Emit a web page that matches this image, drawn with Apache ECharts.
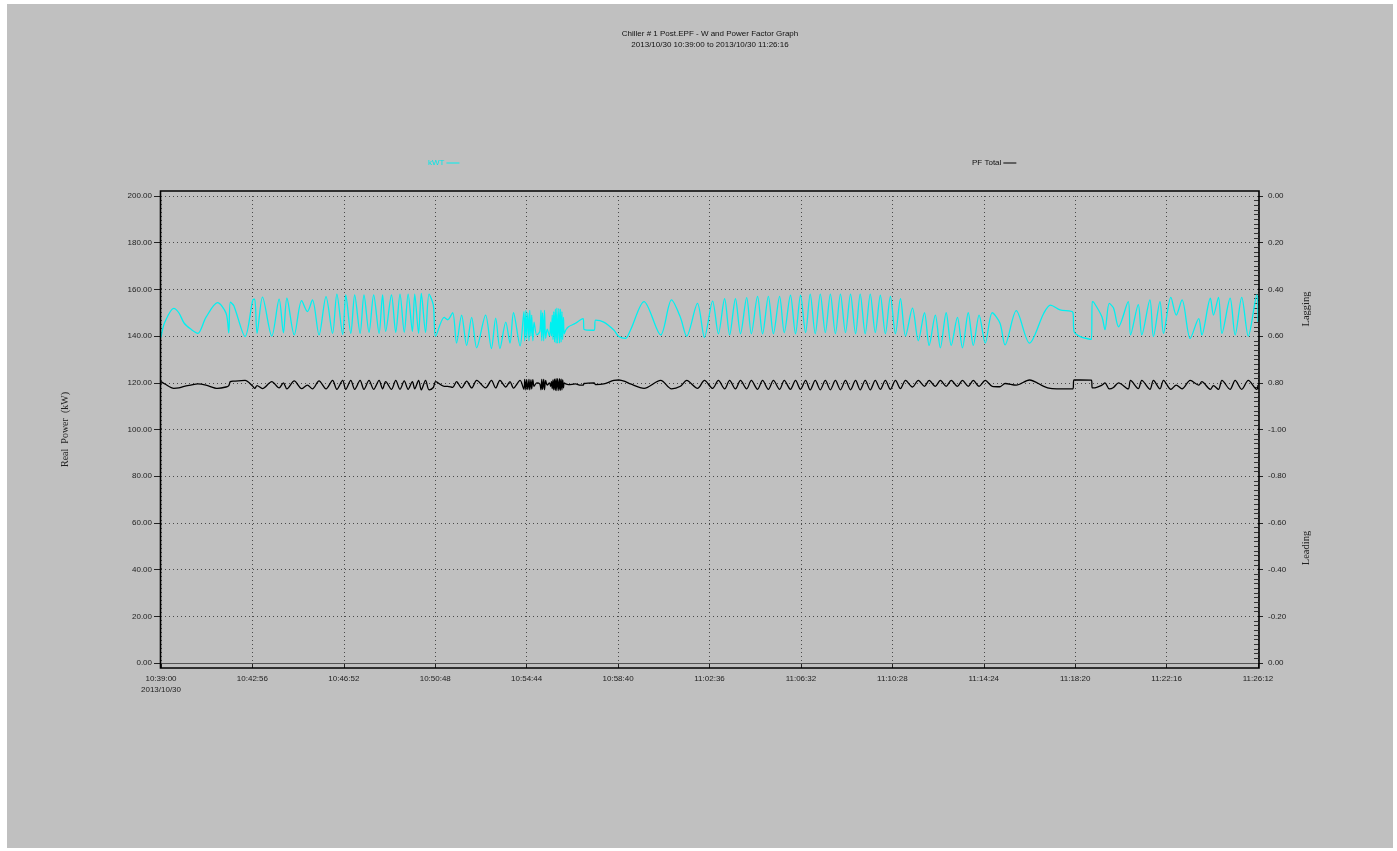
<!DOCTYPE html>
<html>
<head>
<meta charset="utf-8">
<title>Chiller # 1 Post.EPF - W and Power Factor Graph</title>
<script src="https://cdn.jsdelivr.net/npm/echarts@6/dist/echarts.min.js"></script>
<style>
    html, body { margin: 0; padding: 0; background: #ffffff; }
    #chart { width: 1397px; height: 851px; }
</style>
</head>
<body>
<div id="chart"></div>
<script>
// seconds after 10:39:00 on 2013/10/30
const times = [
    0, 10, 33, 46, 60, 77, 95, 116, 146, 168, 175, 179, 188, 217, 237, 242, 248, 262, 286, 305,
    316, 325, 344, 363, 378, 391, 408, 426, 443, 454, 469, 477, 490, 500, 514, 524, 537, 549, 563, 572,
    580, 595, 606, 617, 628, 638, 649, 655, 665, 672, 683, 692, 703, 709,
    731, 740, 753, 763, 776, 789, 802, 815, 838, 853, 864, 875, 890, 901, 910, 927,
    937, 939, 942, 944, 947, 950, 952, 955, 957, 960, 963,
    970, 978,
    981, 983, 985, 988, 990, 993, 997, 1003,
    1006, 1008, 1010, 1012, 1014, 1016, 1018, 1020, 1022, 1024, 1027, 1029, 1031, 1033, 1035, 1037, 1039, 1041,
    1045, 1052, 1070, 1083, 1090, 1092, 1118, 1122, 1143, 1169, 1182, 1199, 1212, 1247, 1290, 1318, 1341,
    1357, 1385, 1403, 1424, 1439, 1455, 1468, 1483, 1496, 1512, 1524, 1540, 1553, 1568, 1581, 1597, 1609, 1625, 1638, 1651,
    1664, 1676, 1689, 1702, 1715, 1728, 1741, 1754, 1767, 1780, 1793, 1805, 1818, 1831, 1844, 1857, 1870, 1883, 1896, 1909,
    1922, 1940, 1955, 1971, 1983, 1999, 2012, 2027, 2040, 2056, 2069, 2084, 2097, 2112, 2128, 2146, 2166,
    2179, 2208, 2242, 2279, 2296, 2321, 2354, 2357, 2373, 2402, 2404, 2408, 2429, 2437, 2448, 2459, 2472, 2497, 2503, 2523,
    2532, 2553, 2562, 2579, 2588, 2607, 2621, 2636, 2657, 2679, 2687, 2709, 2717, 2730, 2739, 2760, 2773, 2790, 2807, 2829, 2832
];

// real power, kW
const kwt = [
    139.5, 146, 151.9, 150, 145.5, 143, 141.2, 148, 154.3, 149.8, 141.4, 154.5, 153, 139.8, 155.5, 155.8, 141.2, 156.7, 140, 155.8,
    141.4, 156.2, 140.5, 155.2, 150.5, 155.5, 140.5, 156.9, 141.2, 158, 140.8, 157.6, 141.2, 157.6, 141.2, 157.6, 141.6, 157.6, 141.2, 157.6,
    142, 157.6, 141.6, 158, 141.6, 158, 142, 158, 141.2, 158.3, 141.6, 158, 153.3, 140,
    148, 147, 150, 137, 149, 136, 148, 135, 149, 134.7, 147.7, 134.7, 146, 137, 150, 135.8,
    150.5, 138, 151, 139, 150, 138, 151, 140, 149, 138, 146,
    140.5, 142,
    151, 138, 150, 138, 151, 139, 143, 140,
    146, 140, 149, 138.5, 150.5, 137.5, 151.5, 137, 152, 137, 151.8, 137, 151.5, 137.5, 150.5, 138.5, 148, 141,
    142.6, 144, 145.5, 147, 147.5, 142.9, 142.5, 146.8, 146, 142.6, 139.8, 139, 142.6, 154.8, 140.5, 155.5, 148,
    140, 154, 139.5, 155, 141, 156, 140.5, 156, 141, 156.5, 141, 157, 141, 157, 141, 157, 141.5, 157.5, 141, 157.5,
    141.5, 158, 141, 158, 141.5, 158, 141, 158, 141.5, 158, 141, 158, 141, 158, 141.5, 157.5, 141, 157, 141, 156,
    140, 152, 138, 150, 136, 149, 135, 150, 136, 148, 135, 150, 136, 149, 137, 150, 145.5,
    136.2, 150.9, 137, 149.8, 153.3, 151.2, 150.2, 142, 139.8, 138.6, 154.8, 154.5, 148.3, 142.8, 154, 152, 144, 154.8, 140.5, 153.5,
    140.5, 155.5, 139.8, 154.8, 141.2, 156.6, 149, 155.5, 139, 147.5, 140.5, 156.2, 149, 156.6, 141.2, 156.2, 140.5, 156.6, 140, 157.6, 146
];

// total power factor (lagging)
const pfTotal = [
    0.795, 0.805, 0.824, 0.822, 0.815, 0.81, 0.805, 0.81, 0.824, 0.818, 0.812, 0.795, 0.793, 0.79, 0.815, 0.824, 0.812, 0.825, 0.795, 0.822,
    0.80, 0.826, 0.792, 0.825, 0.81, 0.826, 0.792, 0.826, 0.79, 0.828, 0.79, 0.828, 0.79, 0.828, 0.79, 0.828, 0.79, 0.828, 0.79, 0.826,
    0.795, 0.828, 0.79, 0.828, 0.792, 0.828, 0.795, 0.826, 0.79, 0.83, 0.79, 0.83, 0.82, 0.795,
    0.815, 0.815, 0.82, 0.795, 0.822, 0.793, 0.822, 0.79, 0.822, 0.79, 0.822, 0.79, 0.818, 0.795, 0.823, 0.79,
    0.828, 0.785, 0.83, 0.786, 0.828, 0.785, 0.83, 0.788, 0.826, 0.786, 0.815,
    0.80, 0.805,
    0.83, 0.785, 0.828, 0.785, 0.83, 0.79, 0.81, 0.80,
    0.815, 0.795, 0.825, 0.788, 0.83, 0.784, 0.832, 0.782, 0.833, 0.782, 0.833, 0.782, 0.832, 0.784, 0.83, 0.788, 0.822, 0.80,
    0.805, 0.808, 0.805, 0.81, 0.81, 0.803, 0.80, 0.808, 0.805, 0.79, 0.788, 0.795, 0.805, 0.824, 0.79, 0.826, 0.815,
    0.79, 0.824, 0.79, 0.824, 0.79, 0.826, 0.79, 0.826, 0.79, 0.826, 0.79, 0.828, 0.79, 0.828, 0.79, 0.828, 0.79, 0.828, 0.79, 0.828,
    0.79, 0.83, 0.79, 0.83, 0.79, 0.83, 0.79, 0.83, 0.79, 0.83, 0.79, 0.83, 0.79, 0.83, 0.79, 0.828, 0.79, 0.828, 0.79, 0.825,
    0.79, 0.818, 0.79, 0.815, 0.79, 0.815, 0.79, 0.815, 0.79, 0.815, 0.79, 0.815, 0.79, 0.815, 0.79, 0.815, 0.817,
    0.803, 0.81, 0.788, 0.815, 0.824, 0.826, 0.826, 0.788, 0.788, 0.789, 0.822, 0.822, 0.81, 0.80, 0.826, 0.82, 0.80, 0.826, 0.79, 0.825,
    0.79, 0.828, 0.79, 0.826, 0.79, 0.828, 0.81, 0.826, 0.79, 0.81, 0.795, 0.828, 0.812, 0.828, 0.79, 0.828, 0.79, 0.828, 0.79, 0.828, 0.81
];

const seriesNames = ["kWT", "PF Total"];
const titleLines = [
    "Chiller # 1 Post.EPF - W and Power Factor Graph",
    "2013/10/30 10:39:00 to 2013/10/30 11:26:16"
];
const startDate = "2013/10/30";
const startSeconds = 10 * 3600 + 39 * 60;
const timeSpan = 2832;
const timeStep = 236;

const labelFont = "'Liberation Sans', Arial, sans-serif";
const nameFont = "'Liberation Serif', 'DejaVu Serif', serif";

function pad(n) {
    return n < 10 ? "0" + n : "" + n;
}

function clock(sec) {
    const t = startSeconds + sec;
    return pad(Math.floor(t / 3600)) + ":" + pad(Math.floor(t / 60) % 60) + ":" + pad(t % 60);
}

function pfLabel(u) {
    const r = Math.round(u * 100) / 100;
    if (r < 1) return r.toFixed(2);
    if (r === 1) return "-1.00";
    if (r >= 2) return "0.00";
    return "-" + (2 - r).toFixed(2);
}

const kwtData = times.map((t, i) => [t, kwt[i]]);
const pfData = times.map((t, i) => [t, pfTotal[i]]);

const dotted = { color: "#4a4a4a", width: 1, type: [1, 3] };

const chart = echarts.init(document.getElementById("chart"));

chart.setOption({
    animation: false,
    backgroundColor: "#ffffff",
    textStyle: { fontFamily: labelFont },
    title: {
        text: titleLines.join("\n"),
        left: 710,
        top: 28,
        textAlign: "center",
        padding: 0,
        textStyle: { fontSize: 8, fontWeight: "normal", color: "#111", lineHeight: 11, fontFamily: labelFont }
    },
    legend: [
        {
            data: [seriesNames[0]],
            left: 428,
            top: 159,
            padding: 0,
            align: "right",
            icon: "rect",
            itemWidth: 13,
            itemHeight: 1,
            textStyle: { color: "#00e8e8", fontSize: 8, padding: [0, -3, 0, 0] }
        },
        {
            data: [seriesNames[1]],
            left: 972,
            top: 159,
            padding: 0,
            align: "right",
            icon: "rect",
            itemWidth: 13,
            itemHeight: 1,
            textStyle: { color: "#111", fontSize: 8, padding: [0, -3, 0, 0] }
        }
    ],
    grid: { left: 161, right: 139, top: 196, bottom: 188 },
    xAxis: {
        type: "value",
        min: 0,
        max: timeSpan,
        interval: timeStep,
        offset: 5,
        axisLine: { show: false },
        axisTick: { length: 5, lineStyle: { color: "#222" } },
        axisLabel: {
            fontSize: 8,
            color: "#222",
            margin: 5,
            lineHeight: 11,
            showMinLabel: true,
            showMaxLabel: true,
            formatter: v => v === 0 ? clock(v) + "\n" + startDate : clock(v)
        },
        splitLine: { show: true, lineStyle: dotted }
    },
    yAxis: [
        {
            type: "value",
            position: "left",
            min: 0,
            max: 200,
            interval: 20,
            name: "Real  Power  (kW)",
            nameLocation: "middle",
            nameRotate: 90,
            nameGap: 91,
            nameTextStyle: { fontFamily: nameFont, fontSize: 10, color: "#222" },
            axisLine: { show: false },
            axisTick: { show: true, length: 7, lineStyle: { color: "#222" } },
            axisLabel: { fontSize: 8, color: "#222", margin: 9, formatter: v => v.toFixed(2) },
            splitLine: { show: true, lineStyle: dotted }
        },
        {
            type: "value",
            position: "right",
            min: 0,
            max: 2,
            interval: 0.2,
            inverse: true,
            axisLine: { show: false },
            axisTick: { show: true, length: 5, lineStyle: { color: "#222" } },
            axisLabel: { fontSize: 8, color: "#222", margin: 10, formatter: pfLabel },
            splitLine: { show: false }
        },
        {
            type: "value",
            position: "right",
            min: 0,
            max: 2,
            interval: 0.2,
            inverse: true,
            axisLine: { show: false },
            axisTick: { show: false, inside: true },
            minorTick: { show: true, splitNumber: 10, length: 4, lineStyle: { color: "#333" } },
            axisLabel: { show: false },
            splitLine: { show: false }
        }
    ],
    graphic: [
        {
            type: "rect",
            z: -10,
            silent: true,
            shape: { x: 7, y: 4, width: 1386, height: 844 },
            style: { fill: "#c0c0c0" }
        },
        {
            type: "rect",
            z: 100,
            silent: true,
            shape: { x: 160.5, y: 191, width: 1098.5, height: 477 },
            style: { fill: "transparent", stroke: "#000", lineWidth: 1.6 }
        },
        {
            type: "text",
            z: 100,
            x: 1306,
            y: 309,
            rotation: Math.PI / 2,
            style: { text: "Lagging", fontSize: 10.5, fontFamily: nameFont, fill: "#222", align: "center", verticalAlign: "middle" }
        },
        {
            type: "text",
            z: 100,
            x: 1306,
            y: 548,
            rotation: Math.PI / 2,
            style: { text: "Leading", fontSize: 10.5, fontFamily: nameFont, fill: "#222", align: "center", verticalAlign: "middle" }
        }
    ],
    series: [
        {
            name: seriesNames[0],
            type: "line",
            yAxisIndex: 0,
            data: kwtData,
            showSymbol: false,
            smooth: 0.3,
            lineStyle: { color: "#00f0f0", width: 1.3 },
            itemStyle: { color: "#00f0f0" },
            markLine: {
                silent: true,
                symbol: "none",
                label: { show: false },
                lineStyle: { type: "solid", color: "#555", width: 1 },
                data: [{ yAxis: 0 }]
            }
        },
        {
            name: seriesNames[1],
            type: "line",
            yAxisIndex: 1,
            data: pfData,
            showSymbol: false,
            smooth: 0.3,
            lineStyle: { color: "#000", width: 1.3 },
            itemStyle: { color: "#000" }
        }
    ]
});

window.addEventListener("resize", () => chart.resize());
</script>
</body>
</html>
